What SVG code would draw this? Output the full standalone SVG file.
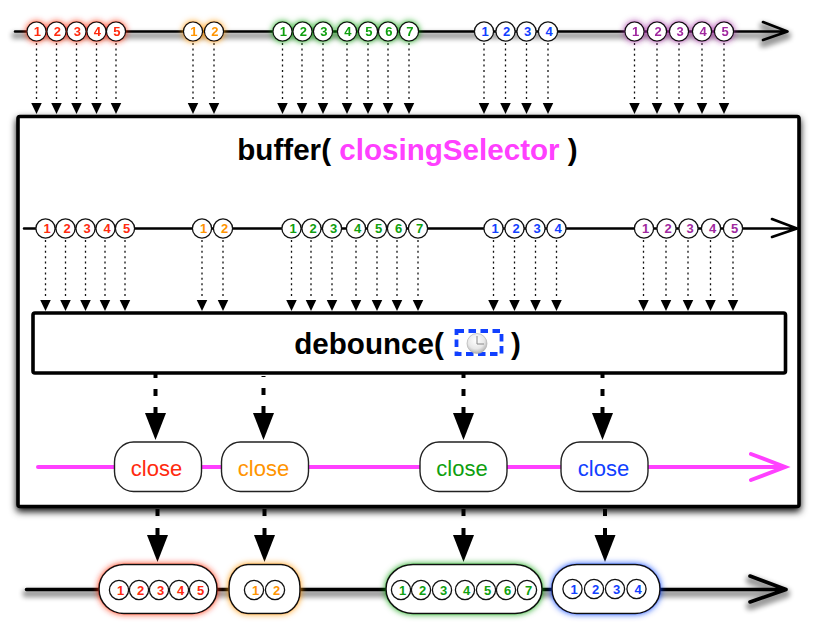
<svg xmlns="http://www.w3.org/2000/svg" width="823" height="638" viewBox="0 0 823 638">
<style>
text{font-family:"Liberation Sans",Arial,sans-serif;text-anchor:middle}
.m circle{fill:#fff;stroke:#111;stroke-width:1.3}
.m text{font-size:13px;font-weight:bold}
.r text{fill:#ff2a0e}.o text{fill:#ff9400}.g text{fill:#0f9f0f}.b text{fill:#1140ff}.p text{fill:#a0289f}
.line{fill:none;stroke:#000;stroke-width:2.6;stroke-linecap:round;stroke-linejoin:round}
.dot{stroke:#111;stroke-width:1.3;stroke-dasharray:2 3.4;fill:none}
.thick{stroke:#000;stroke-width:4;stroke-dasharray:7 11;stroke-linecap:butt;fill:none}
.box{fill:#fff;stroke:#000;stroke-width:3.6}
.close{fill:#fff;stroke:#222;stroke-width:1.4}
.cl{font-size:22px}
.res{fill:#fff;stroke:#111;stroke-width:1.6}
.title{font-size:29.600px;font-weight:bold}
</style>
<defs>
<marker id="sm" markerUnits="userSpaceOnUse" markerWidth="12" markerHeight="13" refX="0" refY="6" orient="auto"><path d="M0 .5L11.500 6L0 11.500Z" fill="#000"/></marker>
<marker id="lg" markerUnits="userSpaceOnUse" markerWidth="28" markerHeight="22" refX="0" refY="11" orient="auto"><path d="M0 .5L27 11L0 21.500Z" fill="#000"/></marker>
<filter id="sh" x="-5%" y="-5%" width="110%" height="110%"><feDropShadow dx="0" dy="3.500" stdDeviation="3.500" flood-color="#000" flood-opacity=".95"/></filter>
<filter id="shl" filterUnits="userSpaceOnUse" x="0" y="0" width="823" height="638"><feMorphology in="SourceAlpha" operator="dilate" radius="2" result="d"/><feOffset in="d" dy="4" result="o"/><feGaussianBlur in="o" stdDeviation="2.500" result="b"/><feComponentTransfer in="b" result="s"><feFuncA type="linear" slope=".4"/></feComponentTransfer><feMerge><feMergeNode in="s"/><feMergeNode in="SourceGraphic"/></feMerge></filter>
<filter id="gr" filterUnits="userSpaceOnUse" x="0" y="0" width="823" height="638"><feDropShadow dx="0" dy="0" stdDeviation="3" flood-color="#ff2a0e" flood-opacity=".9"/></filter>
<filter id="go" filterUnits="userSpaceOnUse" x="0" y="0" width="823" height="638"><feDropShadow dx="0" dy="0" stdDeviation="3" flood-color="#ff9400" flood-opacity=".9"/></filter>
<filter id="gg" filterUnits="userSpaceOnUse" x="0" y="0" width="823" height="638"><feDropShadow dx="0" dy="0" stdDeviation="3" flood-color="#0f9f0f" flood-opacity=".9"/></filter>
<filter id="gb" filterUnits="userSpaceOnUse" x="0" y="0" width="823" height="638"><feDropShadow dx="0" dy="0" stdDeviation="3" flood-color="#1140ff" flood-opacity=".9"/></filter>
<filter id="gp" filterUnits="userSpaceOnUse" x="0" y="0" width="823" height="638"><feDropShadow dx="0" dy="0" stdDeviation="3" flood-color="#a0289f" flood-opacity=".9"/></filter>
<radialGradient id="clk" cx=".45" cy=".35" r=".75"><stop offset="0" stop-color="#fff"/><stop offset=".55" stop-color="#e8e8e8"/><stop offset="1" stop-color="#999"/></radialGradient>
</defs>

<g id="main-box"><rect class="box" x="18" y="116.500" width="781" height="390" rx="2" filter="url(#sh)"/></g>

<g id="connectors">
<g id="top-dotted">
<path class="dot" marker-end="url(#sm)" d="M36.500 43V102.500"/><path class="dot" marker-end="url(#sm)" d="M56.500 43V102.500"/><path class="dot" marker-end="url(#sm)" d="M76.500 43V102.500"/><path class="dot" marker-end="url(#sm)" d="M96.500 43V102.500"/><path class="dot" marker-end="url(#sm)" d="M116 43V102.500"/>
<path class="dot" marker-end="url(#sm)" d="M193 43V102.500"/><path class="dot" marker-end="url(#sm)" d="M214 43V102.500"/>
<path class="dot" marker-end="url(#sm)" d="M282.500 43V102.500"/><path class="dot" marker-end="url(#sm)" d="M302 43V102.500"/><path class="dot" marker-end="url(#sm)" d="M323 43V102.500"/><path class="dot" marker-end="url(#sm)" d="M347 43V102.500"/><path class="dot" marker-end="url(#sm)" d="M368 43V102.500"/><path class="dot" marker-end="url(#sm)" d="M388 43V102.500"/><path class="dot" marker-end="url(#sm)" d="M409 43V102.500"/>
<path class="dot" marker-end="url(#sm)" d="M484 43V102.500"/><path class="dot" marker-end="url(#sm)" d="M505.500 43V102.500"/><path class="dot" marker-end="url(#sm)" d="M526.500 43V102.500"/><path class="dot" marker-end="url(#sm)" d="M548 43V102.500"/>
<path class="dot" marker-end="url(#sm)" d="M634.500 43V102.500"/><path class="dot" marker-end="url(#sm)" d="M657 43V102.500"/><path class="dot" marker-end="url(#sm)" d="M679 43V102.500"/><path class="dot" marker-end="url(#sm)" d="M702 43V102.500"/><path class="dot" marker-end="url(#sm)" d="M724 43V102.500"/>
</g>
<g id="inner-dotted">
<path class="dot" marker-end="url(#sm)" d="M45.500 240V299.500"/><path class="dot" marker-end="url(#sm)" d="M65.500 240V299.500"/><path class="dot" marker-end="url(#sm)" d="M85.500 240V299.500"/><path class="dot" marker-end="url(#sm)" d="M105 240V299.500"/><path class="dot" marker-end="url(#sm)" d="M125 240V299.500"/>
<path class="dot" marker-end="url(#sm)" d="M202 240V299.500"/><path class="dot" marker-end="url(#sm)" d="M223 240V299.500"/>
<path class="dot" marker-end="url(#sm)" d="M291.500 240V299.500"/><path class="dot" marker-end="url(#sm)" d="M311 240V299.500"/><path class="dot" marker-end="url(#sm)" d="M332 240V299.500"/><path class="dot" marker-end="url(#sm)" d="M356 240V299.500"/><path class="dot" marker-end="url(#sm)" d="M377 240V299.500"/><path class="dot" marker-end="url(#sm)" d="M397 240V299.500"/><path class="dot" marker-end="url(#sm)" d="M418 240V299.500"/>
<path class="dot" marker-end="url(#sm)" d="M493.500 240V299.500"/><path class="dot" marker-end="url(#sm)" d="M514.500 240V299.500"/><path class="dot" marker-end="url(#sm)" d="M535.500 240V299.500"/><path class="dot" marker-end="url(#sm)" d="M556.500 240V299.500"/>
<path class="dot" marker-end="url(#sm)" d="M643.500 240V299.500"/><path class="dot" marker-end="url(#sm)" d="M666 240V299.500"/><path class="dot" marker-end="url(#sm)" d="M688 240V299.500"/><path class="dot" marker-end="url(#sm)" d="M710.500 240V299.500"/><path class="dot" marker-end="url(#sm)" d="M733 240V299.500"/>
</g>
<g id="debounce-to-close">
<path class="thick" stroke-dashoffset="2" marker-end="url(#lg)" d="M155.500 373V413"/>
<path class="thick" stroke-dashoffset="6" marker-end="url(#lg)" d="M263.500 376V413"/>
<path class="thick" stroke-dashoffset="2" marker-end="url(#lg)" d="M463.500 373V413"/>
<path class="thick" stroke-dashoffset="2" marker-end="url(#lg)" d="M602.500 373V413"/>
</g>
<g id="close-to-result">
<path class="thick" style="stroke-dasharray:7 12" marker-end="url(#lg)" d="M157.500 509V535"/>
<path class="thick" style="stroke-dasharray:7 12" marker-end="url(#lg)" d="M264.500 509V535"/>
<path class="thick" style="stroke-dasharray:7 12" marker-end="url(#lg)" d="M463.500 509V535"/>
<path class="thick" style="stroke-dasharray:7 12" marker-end="url(#lg)" d="M605 509V535"/>
</g>
</g>

<g id="top-timeline" filter="url(#shl)"><path class="line" d="M15 31.500H787M763 22L787.500 31.500L763 40"/></g>
<g id="top-red" class="m r" filter="url(#gr)">
<g id="t-r1"><circle cx="36.500" cy="31.500" r="9.600"/><text x="37.300" y="36">1</text></g>
<g id="t-r2"><circle cx="56.500" cy="31.500" r="9.600"/><text x="57.300" y="36">2</text></g>
<g id="t-r3"><circle cx="76.500" cy="31.500" r="9.600"/><text x="77.300" y="36">3</text></g>
<g id="t-r4"><circle cx="96.500" cy="31.500" r="9.600"/><text x="97.300" y="36">4</text></g>
<g id="t-r5"><circle cx="116" cy="31.500" r="9.600"/><text x="116.800" y="36">5</text></g>
</g>
<g id="top-orange" class="m o" filter="url(#go)">
<g id="t-o1"><circle cx="193" cy="31.500" r="9.600"/><text x="193.800" y="36">1</text></g>
<g id="t-o2"><circle cx="214" cy="31.500" r="9.600"/><text x="214.800" y="36">2</text></g>
</g>
<g id="top-green" class="m g" filter="url(#gg)">
<g id="t-g1"><circle cx="282.500" cy="31.500" r="9.600"/><text x="283.300" y="36">1</text></g>
<g id="t-g2"><circle cx="302.500" cy="31.500" r="9.600"/><text x="303.300" y="36">2</text></g>
<g id="t-g3"><circle cx="323" cy="31.500" r="9.600"/><text x="323.800" y="36">3</text></g>
<g id="t-g4"><circle cx="347" cy="31.500" r="9.600"/><text x="347.800" y="36">4</text></g>
<g id="t-g5"><circle cx="368" cy="31.500" r="9.600"/><text x="368.800" y="36">5</text></g>
<g id="t-g6"><circle cx="388" cy="31.500" r="9.600"/><text x="388.800" y="36">6</text></g>
<g id="t-g7"><circle cx="409" cy="31.500" r="9.600"/><text x="409.800" y="36">7</text></g>
</g>
<g id="top-blue" class="m b">
<g id="t-b1"><circle cx="484" cy="31.500" r="9.600"/><text x="485" y="36">1</text></g>
<g id="t-b2"><circle cx="505.500" cy="31.500" r="9.600"/><text x="506.500" y="36">2</text></g>
<g id="t-b3"><circle cx="526.500" cy="31.500" r="9.600"/><text x="527.500" y="36">3</text></g>
<g id="t-b4"><circle cx="548" cy="31.500" r="9.600"/><text x="549" y="36">4</text></g>
</g>
<g id="top-purple" class="m p" filter="url(#gp)">
<g id="t-p1"><circle cx="634.500" cy="31.500" r="9.600"/><text x="635.500" y="36">1</text></g>
<g id="t-p2"><circle cx="657" cy="31.500" r="9.600"/><text x="658" y="36">2</text></g>
<g id="t-p3"><circle cx="679" cy="31.500" r="9.600"/><text x="680" y="36">3</text></g>
<g id="t-p4"><circle cx="702" cy="31.500" r="9.600"/><text x="703" y="36">4</text></g>
<g id="t-p5"><circle cx="724" cy="31.500" r="9.600"/><text x="725" y="36">5</text></g>
</g>

<g id="buffer-title"><text class="title" x="407.500" y="160"><tspan>buffer( </tspan><tspan fill="#ff40ff">closingSelector</tspan><tspan> )</tspan></text></g>

<g id="inner-timeline"><path class="line" d="M24 228.500H796M772 219L797 228.500L772 237"/></g>
<g id="inner-red" class="m r">
<g id="i-r1"><circle cx="45.500" cy="228.500" r="9.600"/><text x="47" y="232.800">1</text></g>
<g id="i-r2"><circle cx="65.500" cy="228.500" r="9.600"/><text x="67" y="232.800">2</text></g>
<g id="i-r3"><circle cx="85.500" cy="228.500" r="9.600"/><text x="87" y="232.800">3</text></g>
<g id="i-r4"><circle cx="105.500" cy="228.500" r="9.600"/><text x="107" y="232.800">4</text></g>
<g id="i-r5"><circle cx="125" cy="228.500" r="9.600"/><text x="126.500" y="232.800">5</text></g>
</g>
<g id="inner-orange" class="m o">
<g id="i-o1"><circle cx="202" cy="228.500" r="9.600"/><text x="203.500" y="232.800">1</text></g>
<g id="i-o2"><circle cx="223" cy="228.500" r="9.600"/><text x="224.500" y="232.800">2</text></g>
</g>
<g id="inner-green" class="m g">
<g id="i-g1"><circle cx="291.500" cy="228.500" r="9.600"/><text x="293" y="232.800">1</text></g>
<g id="i-g2"><circle cx="311.500" cy="228.500" r="9.600"/><text x="313" y="232.800">2</text></g>
<g id="i-g3"><circle cx="332" cy="228.500" r="9.600"/><text x="333.500" y="232.800">3</text></g>
<g id="i-g4"><circle cx="356" cy="228.500" r="9.600"/><text x="357.500" y="232.800">4</text></g>
<g id="i-g5"><circle cx="377" cy="228.500" r="9.600"/><text x="378.500" y="232.800">5</text></g>
<g id="i-g6"><circle cx="397" cy="228.500" r="9.600"/><text x="398.500" y="232.800">6</text></g>
<g id="i-g7"><circle cx="418" cy="228.500" r="9.600"/><text x="419.500" y="232.800">7</text></g>
</g>
<g id="inner-blue" class="m b">
<g id="i-b1"><circle cx="493.500" cy="228.500" r="9.600"/><text x="495" y="232.800">1</text></g>
<g id="i-b2"><circle cx="514.500" cy="228.500" r="9.600"/><text x="516" y="232.800">2</text></g>
<g id="i-b3"><circle cx="535.500" cy="228.500" r="9.600"/><text x="537" y="232.800">3</text></g>
<g id="i-b4"><circle cx="556.500" cy="228.500" r="9.600"/><text x="558" y="232.800">4</text></g>
</g>
<g id="inner-purple" class="m p">
<g id="i-p1"><circle cx="644" cy="228.500" r="9.600"/><text x="645.500" y="232.800">1</text></g>
<g id="i-p2"><circle cx="666.500" cy="228.500" r="9.600"/><text x="668" y="232.800">2</text></g>
<g id="i-p3"><circle cx="688.500" cy="228.500" r="9.600"/><text x="690" y="232.800">3</text></g>
<g id="i-p4"><circle cx="711" cy="228.500" r="9.600"/><text x="712.500" y="232.800">4</text></g>
<g id="i-p5"><circle cx="733" cy="228.500" r="9.600"/><text x="734.500" y="232.800">5</text></g>
</g>

<g id="debounce-box">
<rect class="box" x="33" y="313" width="752.500" height="60" rx="2"/>
<text class="title" x="369" y="353.500">debounce(</text>
<text class="title" x="516" y="353.500">)</text>
<rect x="456.500" y="331" width="45" height="23" fill="none" stroke="#1140ff" stroke-width="3.800" stroke-dasharray="7.500 4.500"/>
<circle cx="477" cy="343.500" r="10" fill="url(#clk)" stroke="#aaa" stroke-width=".6"/>
<path d="M477 336V344H484" fill="none" stroke="#888" stroke-width="1"/>
</g>

<g id="selector-timeline"><path d="M38 467H785M751 454L785 467L751 480" fill="none" stroke="#ff40ff" stroke-width="4" stroke-linecap="round" stroke-linejoin="miter"/></g>
<g id="close-red"><rect class="close" x="114.500" y="442" width="87" height="49.500" rx="19" ry="20"/><text class="cl" x="156.500" y="475.500" fill="#ff2a0e">close</text></g>
<g id="close-orange"><rect class="close" x="221.500" y="442" width="87" height="49.500" rx="19" ry="20"/><text class="cl" x="263.500" y="475.500" fill="#ff9400">close</text></g>
<g id="close-green"><rect class="close" x="420" y="442" width="87" height="49.500" rx="19" ry="20"/><text class="cl" x="462" y="475.500" fill="#0f9f0f">close</text></g>
<g id="close-blue"><rect class="close" x="561" y="442" width="87" height="49.500" rx="19" ry="20"/><text class="cl" x="603.500" y="475.500" fill="#1140ff">close</text></g>

<g id="result-timeline" filter="url(#shl)"><path class="line" style="stroke-width:3.600" d="M26.500 589.500H785M750 576L786 589.500L750 602"/></g>

<g id="result-red">
<rect class="res" x="99" y="564.500" width="118" height="49" rx="25" ry="24" filter="url(#gr)"/>
<g class="m r">
<circle cx="119" cy="590" r="9.600"/><text x="120.500" y="594.800">1</text>
<circle cx="139" cy="590" r="9.600"/><text x="140.500" y="594.800">2</text>
<circle cx="159" cy="590" r="9.600"/><text x="160.500" y="594.800">3</text>
<circle cx="179" cy="590" r="9.600"/><text x="180.500" y="594.800">4</text>
<circle cx="199" cy="590" r="9.600"/><text x="200.500" y="594.800">5</text>
</g>
</g>
<g id="result-orange">
<rect class="res" x="229" y="564.500" width="71" height="49" rx="19" ry="22" filter="url(#go)"/>
<g class="m o">
<circle cx="254" cy="590" r="9.600"/><text x="255.500" y="594.800">1</text>
<circle cx="275" cy="590" r="9.600"/><text x="276.500" y="594.800">2</text>
</g>
</g>
<g id="result-green">
<rect class="res" x="386" y="564.500" width="156" height="49" rx="27" ry="24" filter="url(#gg)"/>
<g class="m g">
<circle cx="401" cy="590" r="9.600"/><text x="402.500" y="594.800">1</text>
<circle cx="421" cy="590" r="9.600"/><text x="422.500" y="594.800">2</text>
<circle cx="442" cy="590" r="9.600"/><text x="443.500" y="594.800">3</text>
<circle cx="465" cy="590" r="9.600"/><text x="466.500" y="594.800">4</text>
<circle cx="486" cy="590" r="9.600"/><text x="487.500" y="594.800">5</text>
<circle cx="506" cy="590" r="9.600"/><text x="507.500" y="594.800">6</text>
<circle cx="527" cy="590" r="9.600"/><text x="528.500" y="594.800">7</text>
</g>
</g>
<g id="result-blue">
<rect class="res" x="552" y="564.500" width="108" height="49" rx="25" ry="24" filter="url(#gb)"/>
<g class="m b">
<circle cx="572.500" cy="589" r="9.600"/><text x="574" y="593.800">1</text>
<circle cx="594" cy="589" r="9.600"/><text x="595.500" y="593.800">2</text>
<circle cx="615" cy="589" r="9.600"/><text x="616.500" y="593.800">3</text>
<circle cx="636.500" cy="589" r="9.600"/><text x="638" y="593.800">4</text>
</g>
</g>
</svg>
